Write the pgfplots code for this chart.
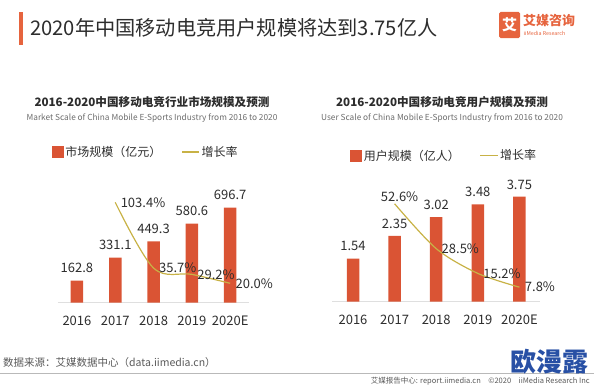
\documentclass[border=0pt]{standalone}
\usepackage{pgfplots}
\pgfplotsset{compat=1.18}
\usepackage{fontspec}
\setmainfont{Noto Sans CJK SC}
\definecolor{barred}{RGB}{218,84,52}
\definecolor{rateline}{RGB}{200,178,70}
\definecolor{legline}{RGB}{228,208,120}
\definecolor{logoor}{RGB}{230,100,62}
\definecolor{wmblue}{RGB}{40,80,165}
\definecolor{txt}{RGB}{45,45,45}
\pgfplotsset{
  barbase/.style={
    scale only axis, anchor=south west,
    xmin=-0.5, xmax=4.5, ymin=0,
    axis x line=bottom, axis y line=none,
    x axis line style={draw=gray!25, line width=0.8pt, -},
    xtick={0,1,2,3,4},
    xticklabels={2016,2017,2018,2019,2020E},
    major tick length=0pt,
    xticklabel style={font=\fontsize{13}{13}\selectfont, text=txt, yshift=-10pt},
    nodes near coords style={font=\fontsize{13}{13}\selectfont, text=txt, yshift=4pt},
    /pgf/number format/assume math mode=true,
    clip=false,
  },
  linebase/.style={
    scale only axis, anchor=south west,
    xmin=-0.5, xmax=4.5, ymin=0,
    hide axis, clip=false,
    /pgf/number format/assume math mode=true,
    legend columns=2,
    legend style={draw=none, fill=none, font=\fontsize{12}{12}\selectfont, text=txt,
      /tikz/every even column/.append style={column sep=18pt}},
    legend cell align=left,
  },
}
\begin{document}
\begin{tikzpicture}[x=1pt,y=1pt]
\path[use as bounding box] (0pt,0pt) rectangle (594pt,384pt);
% header
\fill[logoor] (19pt,339pt) rectangle (23pt,372pt);
\node[anchor=west, inner sep=0, font=\fontsize{20.2}{20}\selectfont, text=txt] at (30pt,356pt) {2020年中国移动电竞用户规模将达到3.75亿人};
\fill[logoor, rounded corners=1.5pt] (499pt,346pt) rectangle (520pt,372pt);
\node[text=white, inner sep=0, font=\fontsize{15}{15}\selectfont\bfseries] at (509.5pt,359pt) {艾};
\node[anchor=west, inner sep=0, text=logoor, font=\fontsize{13}{13}\selectfont\bfseries] at (523pt,363pt) {艾媒咨询};
\node[anchor=west, inner sep=0, text=logoor, font=\fontsize{5.3}{5.5}\selectfont] at (523.5pt,351pt) {iiMedia Research};
% subtitles
\node[font=\fontsize{11.6}{12}\selectfont\bfseries, text=txt] at (152pt,282pt) {2016-2020中国移动电竞行业市场规模及预测};
\node[font=\fontsize{8.3}{8}\selectfont, text=gray!85!black] at (152pt,266pt) {Market Scale of China Mobile E-Sports Industry from 2016 to 2020};
\node[font=\fontsize{11.6}{12}\selectfont\bfseries, text=txt] at (442pt,282pt) {2016-2020中国移动电竞用户规模及预测};
\node[font=\fontsize{8.3}{8}\selectfont, text=gray!85!black] at (442pt,266pt) {User Scale of China Mobile E-Sports Industry from 2016 to 2020};

% ---------- left chart ----------
\begin{axis}[barbase, at={(57.8pt,81.3pt)}, width=191.5pt, height=109.1pt, ymax=800,
  nodes near coords={\pgfmathprintnumber[fixed,fixed zerofill,precision=1]{\pgfplotspointmeta}}]
\addplot[ybar, bar width=12.5pt, fill=barred, draw=none] coordinates {
  (0,162.8) (1,331.1) (2,449.3) (3,580.6) (4,696.7)};
\end{axis}
\begin{axis}[linebase, at={(57.8pt,81.3pt)}, width=191.5pt, height=109.1pt, ymax=112.4,
  legend style={at={(0.46,1.381)}, anchor=center}]
\addlegendimage{legend image code/.code={\fill[barred] (0pt,-5.5pt) rectangle (11pt,5.5pt);}}
\addlegendentry{市场规模（亿元）}
\addplot[rateline, line width=1.2pt, smooth, tension=0.55, mark=none] coordinates {
  (1,103.4) (2,35.7) (3,29.2) (4,20.0)};
\addlegendimage{legend image code/.code={\draw[legline, line width=1.3pt] (0pt,0pt) -- (15pt,0pt);}}
\addlegendentry{增长率}
\addplot[forget plot, draw=none, mark=none,
  nodes near coords={\pgfmathprintnumber[fixed,fixed zerofill,precision=1]{\pgfplotspointmeta}\%},
  nodes near coords style={anchor=west, xshift=2pt, font=\fontsize{13}{13}\selectfont, text=txt}]
  coordinates {(1,103.4) (2,35.7) (3,29.2) (4,20.0)};
\end{axis}

% ---------- right chart ----------
\begin{axis}[barbase, at={(332.2pt,82.3pt)}, width=208pt, height=112pt, ymax=4,
  nodes near coords={\pgfmathprintnumber[fixed,fixed zerofill,precision=2]{\pgfplotspointmeta}}]
\addplot[ybar, bar width=12.5pt, fill=barred, draw=none] coordinates {
  (0,1.54) (1,2.35) (2,3.02) (3,3.48) (4,3.75)};
\end{axis}
\begin{axis}[linebase, at={(332.2pt,82.3pt)}, width=208pt, height=112pt, ymax=60.15,
  legend style={at={(0.539,1.304)}, anchor=center}]
\addlegendimage{legend image code/.code={\fill[barred] (0pt,-5.5pt) rectangle (11pt,5.5pt);}}
\addlegendentry{用户规模（亿人）}
\addplot[rateline, line width=1.2pt, smooth, tension=0.5, mark=none] coordinates {
  (1,52.6) (2,28.5) (3,15.2) (4,7.8)};
\addlegendimage{legend image code/.code={\draw[legline, line width=1.3pt] (0pt,0pt) -- (15pt,0pt);}}
\addlegendentry{增长率}
\addplot[forget plot, draw=none, mark=none,
  nodes near coords={\pgfmathprintnumber[fixed,fixed zerofill,precision=1]{\pgfplotspointmeta}\%},
  nodes near coords style={anchor=south, xshift=5pt, yshift=-1pt, font=\fontsize{13}{13}\selectfont, text=txt}]
  coordinates {(1,52.6)};
\addplot[forget plot, draw=none, mark=none,
  nodes near coords={\pgfmathprintnumber[fixed,fixed zerofill,precision=1]{\pgfplotspointmeta}\%},
  nodes near coords style={anchor=west, xshift=2pt, font=\fontsize{13}{13}\selectfont, text=txt}]
  coordinates {(2,28.5) (3,15.2) (4,7.8)};
\end{axis}

% footer
\node[anchor=west, inner sep=0, font=\fontsize{10.5}{11}\selectfont, text=gray!70!black] at (3pt,21pt) {数据来源：艾媒数据中心（data.iimedia.cn）};
\draw[gray!55, line width=0.8pt] (0pt,11pt) -- (594pt,11pt);
\node[anchor=east, inner sep=0, font=\fontsize{7.5}{8}\selectfont, text=gray!70!black] at (590pt,3pt) {艾媒报告中心: report.iimedia.cn\quad ©2020\quad iiMedia Research Inc};
\node[anchor=center, inner sep=0, font=\fontsize{26}{26}\selectfont\bfseries, text=wmblue] at (549pt,22pt) {欧漫露};
\end{tikzpicture}
\end{document}
